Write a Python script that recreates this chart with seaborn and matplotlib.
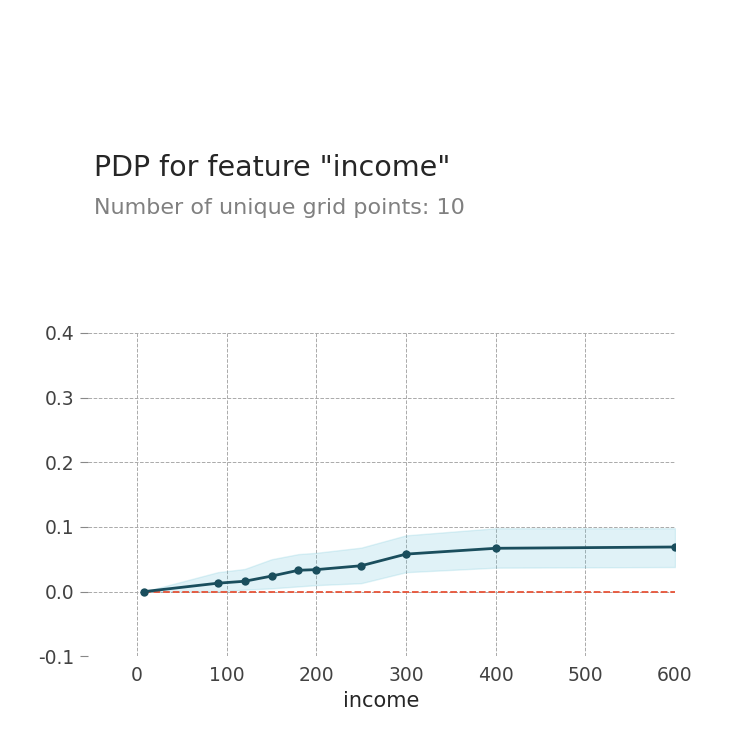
import numpy as np
import pandas as pd
import matplotlib
matplotlib.use("Agg")
import matplotlib.pyplot as plt
import seaborn as sns

# grid points and PDP values
grid = [8, 90, 120, 150, 180, 200, 250, 300, 400, 600]
pdp = [0.0, 0.013, 0.016, 0.024, 0.033, 0.034, 0.040, 0.058, 0.067, 0.069]
upper = [0.0, 0.030, 0.035, 0.050, 0.058, 0.060, 0.068, 0.087, 0.098, 0.098]
lower = [0.0, 0.0, 0.003, 0.005, 0.008, 0.010, 0.013, 0.030, 0.037, 0.038]

df = pd.DataFrame({"income": grid, "pdp": pdp})

sns.set_style("white")
fig = plt.figure(figsize=(7.5, 7.5), dpi=100)
ax = fig.add_axes([0.117, 0.125, 0.783, 0.431])

ax.fill_between(grid, lower, upper, color="#66C2D7", alpha=0.2)
ax.plot([grid[0], grid[-1]], [0, 0], ls="--", color="#E75438", lw=1.3)
sns.lineplot(data=df, x="income", y="pdp", ax=ax, color="#1A4E5D", lw=2,
             marker="o", markersize=6, markeredgewidth=0)

ax.set_xlim(-55, 600)
ax.set_ylim(-0.1, 0.4)
ax.set_xticks([0, 100, 200, 300, 400, 500, 600])
ax.set_yticks([-0.1, 0.0, 0.1, 0.2, 0.3, 0.4])
ax.yaxis.set_major_formatter(matplotlib.ticker.FormatStrFormatter("%.1f"))
ax.grid(True, ls="--", lw=0.7, color="#aaaaaa")
for s in ax.spines.values():
    s.set_visible(False)
ax.tick_params(axis="y", left=True, length=6, color="#888888", labelsize=13.5,
               labelcolor="#424242")
ax.tick_params(axis="x", bottom=False, labelsize=13.5, labelcolor="#424242")
ax.set_xlabel("income", fontsize=15)
ax.set_ylabel("")

fig.text(0.125, 0.776, 'PDP for feature "income"', fontsize=20.5, va="center")
fig.text(0.125, 0.722, "Number of unique grid points: 10", fontsize=16,
         color="grey", va="center")

fig.savefig("out.png", dpi=100)
